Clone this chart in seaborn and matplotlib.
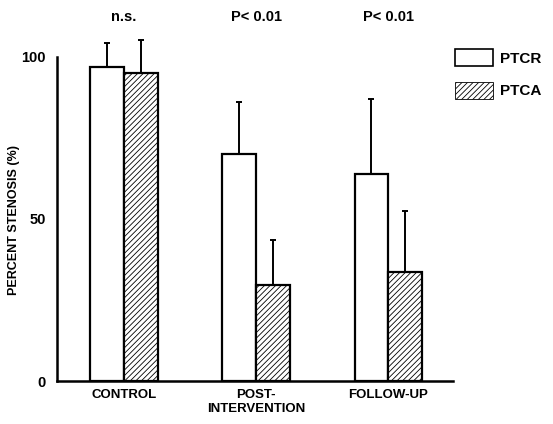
import matplotlib
matplotlib.use("Agg")
import matplotlib.pyplot as plt
from matplotlib.patches import Patch
import seaborn as sns
import pandas as pd

# data
phases = ['CONTROL', 'POST-\nINTERVENTION', 'FOLLOW-UP']
groups = ['PTCR', 'PTCA']
ptcr_mean = [97, 70, 64]
ptca_mean = [95, 29.5, 33.5]
ptcr_sd = [7.3, 16, 23]
ptca_sd = [10.2, 14, 19]
p_labels = ['n.s.', 'P< 0.01', 'P< 0.01']

df = pd.DataFrame({
    'phase': phases * 2,
    'group': [groups[0]] * 3 + [groups[1]] * 3,
    'stenosis': ptcr_mean + ptca_mean,
    'sd': ptcr_sd + ptca_sd,
})

sns.set_style('white')
plt.rcParams['font.family'] = ['Liberation Sans', 'DejaVu Sans']
plt.rcParams['font.weight'] = 'bold'
plt.rcParams['text.color'] = 'black'
plt.rcParams['xtick.color'] = 'black'
plt.rcParams['ytick.color'] = 'black'
plt.rcParams['axes.labelcolor'] = 'black'
plt.rcParams['hatch.linewidth'] = 0.6

fig = plt.figure(figsize=(5.53, 4.24), dpi=100)
ax = fig.add_axes([0.103, 0.1014, 0.716, 0.8278])

sns.barplot(data=df, x='phase', y='stenosis', hue='group', hue_order=groups,
            palette=['white', 'white'], width=0.51, errorbar=None,
            edgecolor='black', linewidth=1.6, legend=False, ax=ax)

# hatch PTCA bars and draw upward error bars
bars = ax.patches
for i, bar in enumerate(bars):
    if i >= len(phases):
        bar.set_hatch('//////')
    cx = bar.get_x() + bar.get_width() / 2
    top = bar.get_height()
    err = df['sd'].iloc[i]
    ax.errorbar(cx, top, yerr=[[0], [err]], fmt='none', ecolor='black',
                elinewidth=1.4, capsize=2.5, capthick=1.4)

ax.set_xlim(-0.508, 2.49)
ax.set_ylim(0, 108.3)
ax.set_yticks([0, 50, 100])
ax.set_yticklabels(['0', '50', '100'], fontsize=10.5, fontweight='bold')
ax.tick_params(axis='y', length=5, width=1.5, direction='out', pad=3)
ax.tick_params(axis='x', length=0, pad=6, labelsize=9.5)
for t in ax.get_xticklabels():
    t.set_fontweight('bold')
for s in ['top', 'right']:
    ax.spines[s].set_visible(False)
for s in ['left', 'bottom']:
    ax.spines[s].set_linewidth(1.8)
    ax.spines[s].set_color('black')
ax.spines['left'].set_bounds(0, 100)

ax.set_xlabel('')
ax.set_ylabel('PERCENT STENOSIS (%)', fontsize=9, fontweight='bold')
ax.yaxis.set_label_coords(-0.093, 0.46)

for i, lab in enumerate(p_labels):
    ax.text(i, 112.3, lab, ha='center', va='center', fontsize=10.5,
            fontweight='bold', clip_on=False)

handles = [Patch(facecolor='white', edgecolor='black', linewidth=1.2, label='PTCR'),
           Patch(facecolor='white', edgecolor='black', linewidth=0.6, hatch='//////', label='PTCA')]
fig.legend(handles=handles, loc='upper left', bbox_to_anchor=(0.823, 0.884),
           frameon=False, handlelength=2.5, handleheight=1.35,
           labelspacing=1.0, handletextpad=0.45, borderpad=0, borderaxespad=0,
           prop={'weight': 'bold', 'size': 11})

fig.savefig('out.png', dpi=100)
